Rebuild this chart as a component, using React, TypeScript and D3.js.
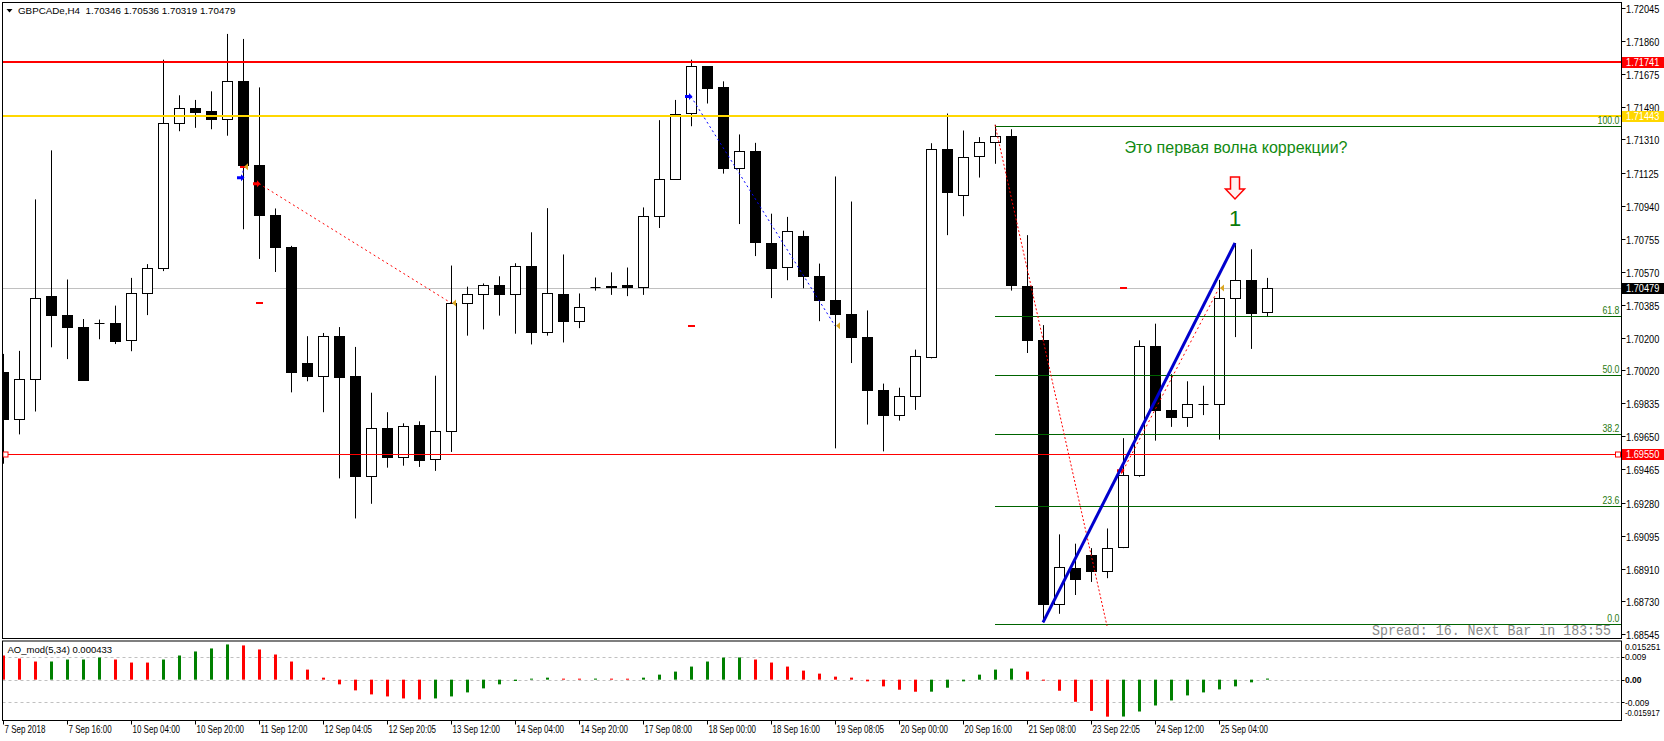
import * as d3 from "d3";

// GBPCADe H4 candles (bar 0 = 7 Sep 2018)
const opens = [
  1.70011, 1.69745, 1.69969, 1.70432, 1.70328, 1.70261, 1.70282, 1.70283, 1.70188, 1.70452,
  1.70591, 1.71404, 1.71484, 1.71469, 1.71426, 1.71639, 1.71169, 1.70888, 1.70709, 1.7006,
  1.69987, 1.7021, 1.69987, 1.69431, 1.69696, 1.69532, 1.69712, 1.69521, 1.69679, 1.70394,
  1.70447, 1.70496, 1.70447, 1.70602, 1.70232, 1.70447, 1.70294, 1.70485, 1.70492, 1.70494,
  1.70485, 1.70884, 1.7109, 1.7146, 1.71719, 1.71601, 1.71152, 1.71243, 1.70733, 1.70598,
  1.70771, 1.70547, 1.7041, 1.70334, 1.70206, 1.69909, 1.69767, 1.69876, 1.70093, 1.71258,
  1.71001, 1.71215, 1.71294, 1.71332, 1.70488, 1.70191, 1.6871, 1.68915, 1.68988, 1.68897,
  1.6903, 1.69435, 1.70158, 1.698, 1.69761, 1.69831, 1.69832, 1.70421, 1.70523, 1.70346,
];
const highs = [
  1.70111, 1.70128, 1.70975, 1.71249, 1.70527, 1.70306, 1.70303, 1.70381, 1.70536, 1.70613,
  1.71756, 1.71557, 1.71531, 1.71579, 1.719, 1.71872, 1.71601, 1.70924, 1.70715, 1.7021,
  1.70228, 1.70261, 1.7015, 1.69894, 1.69785, 1.69723, 1.69734, 1.69989, 1.70605, 1.70487,
  1.70505, 1.70545, 1.70618, 1.70791, 1.70926, 1.70667, 1.70449, 1.70538, 1.70567, 1.70594,
  1.7093, 1.71418, 1.71531, 1.71756, 1.71719, 1.71635, 1.71338, 1.71291, 1.70895, 1.70877,
  1.708, 1.70616, 1.71103, 1.70963, 1.70354, 1.69945, 1.69922, 1.70135, 1.71289, 1.71455,
  1.7136, 1.71323, 1.71392, 1.71367, 1.70775, 1.70272, 1.69102, 1.6905, 1.69025, 1.69135,
  1.6964, 1.70187, 1.7028, 1.69998, 1.69958, 1.69933, 1.70525, 1.70731, 1.70696, 1.70536,
];
const lows = [
  1.69497, 1.69661, 1.69789, 1.70148, 1.70082, 1.69964, 1.70193, 1.70166, 1.70126, 1.70328,
  1.70574, 1.71356, 1.71375, 1.71367, 1.71331, 1.70808, 1.70642, 1.70569, 1.69896, 1.69958,
  1.69785, 1.69415, 1.69191, 1.69273, 1.69475, 1.69486, 1.69479, 1.69457, 1.69563, 1.70213,
  1.70248, 1.70325, 1.70224, 1.70164, 1.70213, 1.70175, 1.70255, 1.70465, 1.70441, 1.70434,
  1.70441, 1.70815, 1.7109, 1.71384, 1.71511, 1.71119, 1.70837, 1.70658, 1.70423, 1.70523,
  1.70478, 1.70294, 1.69583, 1.7006, 1.69716, 1.69566, 1.69738, 1.69798, 1.70086, 1.70775,
  1.70881, 1.71097, 1.71174, 1.70465, 1.70116, 1.6861, 1.68658, 1.68763, 1.68836, 1.68857,
  1.69025, 1.69424, 1.69626, 1.69703, 1.69703, 1.69769, 1.69632, 1.70205, 1.70139, 1.70319,
];
const closes = [
  1.69745, 1.69971, 1.70425, 1.70328, 1.70261, 1.69964, 1.70281, 1.70182, 1.70452, 1.70591,
  1.714, 1.71488, 1.71462, 1.71426, 1.71639, 1.71165, 1.70888, 1.70709, 1.70009, 1.69987,
  1.7021, 1.6998, 1.69431, 1.69696, 1.69532, 1.69707, 1.69519, 1.69679, 1.70396, 1.70447,
  1.70496, 1.70445, 1.70602, 1.70232, 1.70452, 1.70294, 1.70374, 1.70485, 1.70483, 1.70485,
  1.70884, 1.7109, 1.71455, 1.71719, 1.71599, 1.71152, 1.71243, 1.70738, 1.70591, 1.708,
  1.70547, 1.70412, 1.70332, 1.70204, 1.69907, 1.69767, 1.69876, 1.701, 1.71258, 1.71017,
  1.71214, 1.71298, 1.71332, 1.70494, 1.70191, 1.68712, 1.68919, 1.68851, 1.68896, 1.69025,
  1.69435, 1.70158, 1.698, 1.69761, 1.69832, 1.69829, 1.70421, 1.70523, 1.70342, 1.70479,
];

// AO_mod(5,34)
const aoValues = [
  0.00953, 0.00834, 0.00715, 0.00716, 0.00794, 0.00795, 0.00873, 0.00794, 0.00675, 0.00674,
  0.00794, 0.00953, 0.01112, 0.01231, 0.01389, 0.0135, 0.01191, 0.00992, 0.00715, 0.00397,
  0.00079, -0.00185, -0.00423, -0.00582, -0.00662, -0.00741, -0.00781, -0.00741, -0.00662, -0.00503,
  -0.00344, -0.00185, -0.00053, 0.0004, 0.00079, 0.0004, 0.00039, 0.00042, 0.0004, 0.00038,
  0.00079, 0.00198, 0.00318, 0.00516, 0.00715, 0.0087, 0.00876, 0.00794, 0.00675, 0.00516,
  0.00357, 0.00238, 0.00119, 0.0008, -0.00066, -0.00265, -0.00397, -0.00476, -0.00474, -0.00318,
  -0.00066, 0.00198, 0.00397, 0.00437, 0.00318, -0.0003, -0.00437, -0.00873, -0.01231, -0.0146,
  -0.01455, -0.01257, -0.01019, -0.0082, -0.00622, -0.00503, -0.00384, -0.00265, -0.00106, 0.00043,
];

const priceTicks = [
  1.72045, 1.7186, 1.71675, 1.7149, 1.7131, 1.71125, 1.7094, 1.70755, 1.7057, 1.70385,
  1.702, 1.7002, 1.69835, 1.6965, 1.69465, 1.6928, 1.69095, 1.6891, 1.6873, 1.68545,
];
const timeLabels = [
  "7 Sep 2018", "7 Sep 16:00", "10 Sep 04:00", "10 Sep 20:00", "11 Sep 12:00",
  "12 Sep 04:05", "12 Sep 20:05", "13 Sep 12:00", "14 Sep 04:00", "14 Sep 20:00",
  "17 Sep 08:00", "18 Sep 00:00", "18 Sep 16:00", "19 Sep 08:05", "20 Sep 00:00",
  "20 Sep 16:00", "21 Sep 08:00", "23 Sep 22:05", "24 Sep 12:00", "25 Sep 04:00",
];
const aoTicks = [0.015251, 0.009, 0, -0.009, -0.015917];
const aoTickText = ["0.015251", "0.009", "0.00", "-0.009", "-0.015917"];

// horizontal levels: red resistance, gold level, bid, red support
const resistance = 1.71741;
const goldLevel = 1.71443;
const bid = 1.70479;
const support = 1.6955;

// fibonacci from bar 62 high to bar 65 low
const fibStartBar = 62;
const fibHigh = 1.71385;
const fibLow = 1.68601;
const fibLevels = [0, 23.6, 38.2, 50, 61.8, 100];

// closed orders (open arrow, dotted line, gold close mark)
const tradeOpenBars = [15, 16, 43, 70];
const tradeCloseBars = [15, 28, 52, 76];
const tradeOpenPrices = [1.71096, 1.71063, 1.7155, 1.69458];
const tradeClosePrices = [1.71158, 1.70396, 1.70268, 1.70479];
const tradeSides = ["buy", "sell", "buy", "sell"];

const trendBars = [62, 69];
const trendPrices = [1.71392, 1.6859];
const waveBars = [65, 77];
const wavePrices = [1.6861, 1.70731];

const commentBar = 70.1;
const commentPrice = 1.71234;

const SANS = "'Liberation Sans', Arial, sans-serif";

function T({ x, y, fs = 10, sx = 1, anchor = "start", fill = "#000", weight = "normal", family = SANS, children }: any) {
  return (
    <text
      transform={`translate(${x},${y}) scale(${sx},1)`}
      fontSize={fs}
      fontFamily={family}
      fontWeight={weight}
      textAnchor={anchor}
      fill={fill}
    >
      {children}
    </text>
  );
}

export default function App() {
  const left = 2.5;
  const axisX = 1621.5;
  const mainTop = 2.5;
  const mainBottom = 638.5;
  const indTop = 641;
  const indBottom = 720.5;

  const x = d3.scaleLinear().domain([0, 79]).range([3, 1267]);
  const y = d3.scaleLinear().domain([1.68545, 1.72045]).range([634, 8]);
  const ay = d3.scaleLinear().domain([-0.015917, 0.015251]).range([720, 641]);
  const fmt = d3.format(".5f");
  const line = d3.line<[number, number]>();

  const fibPrice = (l: number) => fibLow + ((fibHigh - fibLow) * l) / 100;

  const boxLabel = (price: number, bg: string, fg: string) => {
    const py = Math.round(y(price));
    return (
      <g>
        <rect x={1622} y={py - 5} width={42} height={11} fill={bg} />
        <T x={1626} y={py + 4} fs={10.5} sx={0.88} fill={fg}>{fmt(price)}</T>
      </g>
    );
  };

  const hline = (price: number, color: string, w: number, x1 = left) => {
    const py = Math.round(y(price)) + (w === 1 ? 0.5 : 0);
    return <line x1={x1} x2={axisX} y1={py} y2={py} stroke={color} strokeWidth={w} />;
  };

  const openArrow = (bx: number, py: number, color: string, key: string) => (
    <polygon
      key={key}
      points={`${bx - 6},${py - 1.5} ${bx - 2},${py - 1.5} ${bx - 2},${py - 3.5} ${bx + 1.5},${py} ${bx - 2},${py + 3.5} ${bx - 2},${py + 1.5} ${bx - 6},${py + 1.5}`}
      fill={color}
    />
  );

  const a77x = x(waveBars[1]);
  const a77y = y(wavePrices[1]);

  return (
    <>
      <style>{`body{margin:0;background:#fff}`}</style>
      <svg width={1664} height={741} style={{ display: "block", background: "#fff" }}>
        <defs>
          <clipPath id="mainClip">
            <rect x={left} y={mainTop} width={axisX - left} height={mainBottom - mainTop} />
          </clipPath>
          <clipPath id="indClip">
            <rect x={left} y={indTop} width={axisX - left} height={indBottom - indTop} />
          </clipPath>
        </defs>

        {/* header */}
        <polygon points="6.5,9 12.5,9 9.5,12.5" fill="#000" />
        <T x={18} y={13.5} fs={9.8}>GBPCADe,H4&nbsp;&nbsp;1.70346 1.70536 1.70319 1.70479</T>

        <g clipPath="url(#mainClip)">
          {hline(bid, "#c0c0c0", 1)}

          {/* candles */}
          {opens.map((o, i) => {
            const c = closes[i];
            const cx = Math.round(x(i)) + 0.5;
            const yo = y(o);
            const yc = y(c);
            const top = Math.min(yo, yc);
            const bot = Math.max(yo, yc);
            const bull = c >= o;
            return (
              <g key={i}>
                <line x1={cx} x2={cx} y1={y(highs[i])} y2={y(lows[i])} stroke="#000" />
                {bot - top < 1.5 ? (
                  <line x1={cx - 5} x2={cx + 5} y1={Math.round(top) + 0.5} y2={Math.round(top) + 0.5} stroke="#000" />
                ) : (
                  <rect
                    x={cx - 5}
                    y={Math.round(top) + 0.5}
                    width={10}
                    height={Math.round(bot) - Math.round(top)}
                    fill={bull ? "#fff" : "#000"}
                    stroke="#000"
                  />
                )}
              </g>
            );
          })}

          {/* levels */}
          {hline(resistance, "#ff0000", 2)}
          {hline(goldLevel, "#ffd700", 2)}
          {hline(support, "#ff0000", 1)}
          <rect x={3} y={Math.round(y(support)) - 2} width={5} height={5} fill="#fff" stroke="#ff0000" />

          {fibLevels.map((l) => {
            const py = Math.round(y(fibPrice(l))) + 0.5;
            return (
              <g key={l}>
                <line x1={x(fibStartBar)} x2={axisX} y1={py} y2={py} stroke="#006400" />
                <T x={1619.5} y={py - 2.5} fs={10} sx={0.88} anchor="end" fill="#2a7a10">
                  {l.toFixed(1)}
                </T>
              </g>
            );
          })}

          {/* order history */}
          {tradeOpenBars.map((ob, k) => {
            const ox = x(ob);
            const cxp = x(tradeCloseBars[k]);
            const oy = y(tradeOpenPrices[k]);
            const cy = y(tradeClosePrices[k]);
            const col = tradeSides[k] === "buy" ? "#0000ff" : "#ff0000";
            return (
              <g key={k}>
                <path
                  d={line([[ox, oy], [cxp, cy]]) || ""}
                  stroke={col}
                  strokeWidth={1}
                  strokeDasharray="2,3"
                  fill="none"
                />
                <line x1={ox - 3} x2={ox + 4} y1={Math.round(cy)} y2={Math.round(cy)} stroke="#ff0000" strokeWidth={2} />
                {openArrow(ox, oy, col, "o" + k)}
                <polygon points={`${cxp + 1},${cy} ${cxp + 5},${cy - 3.5} ${cxp + 5},${cy + 3.5}`} fill="#daa520" />
              </g>
            );
          })}

          <path
            d={line(trendBars.map((b, k) => [x(b), y(trendPrices[k])] as [number, number])) || ""}
            stroke="#ff0000"
            strokeDasharray="2,2"
            fill="none"
          />

          <path
            d={line(waveBars.map((b, k) => [x(b), y(wavePrices[k])] as [number, number])) || ""}
            stroke="#0000cd"
            strokeWidth={3}
            fill="none"
          />

          {/* annotations */}
          <path
            d={`M${a77x - 4.5},${a77y - 66} L${a77x + 4.5},${a77y - 66} L${a77x + 4.5},${a77y - 54} L${a77x + 9.5},${a77y - 54} L${a77x},${a77y - 44} L${a77x - 9.5},${a77y - 54} L${a77x - 4.5},${a77y - 54} Z`}
            fill="#fff0f0"
            stroke="#ff0000"
            strokeWidth={1.5}
          />
          <T x={a77x} y={a77y - 17} fs={22} anchor="middle" fill="#0a7a0a">1</T>
          <T x={x(commentBar)} y={y(commentPrice)} fs={16} fill="#118a11">Это первая волна коррекции?</T>

          <text
            x={1611}
            y={635}
            textAnchor="end"
            fontFamily="'Liberation Mono', 'Courier New', monospace"
            fontSize={14}
            fill="#8a8a8a"
            textLength={239}
            lengthAdjust="spacingAndGlyphs"
          >
            Spread: 16. Next Bar in 183:55
          </text>
        </g>

        <rect x={1615.5} y={Math.round(y(support)) - 2} width={5} height={5} fill="#fff" stroke="#ff0000" />

        {/* main frame */}
        <rect x={left} y={mainTop} width={axisX - left} height={mainBottom - mainTop} fill="none" stroke="#000" />

        {/* price axis */}
        {priceTicks.map((p) => {
          const py = Math.round(y(p)) + 0.5;
          return (
            <g key={p}>
              <line x1={axisX} x2={axisX + 4} y1={py} y2={py} stroke="#000" />
              <T x={1626} y={py + 4} fs={10.5} sx={0.88}>{fmt(p)}</T>
            </g>
          );
        })}
        {boxLabel(resistance, "#ff0000", "#fff")}
        {boxLabel(goldLevel, "#ffd700", "#fff")}
        {boxLabel(bid, "#000", "#fff")}
        {boxLabel(support, "#ff0000", "#fff")}

        {/* AO panel */}
        <g clipPath="url(#indClip)">
          {[0.009, 0, -0.009].map((v) => (
            <line
              key={v}
              x1={left}
              x2={axisX}
              y1={Math.round(ay(v)) + 0.5}
              y2={Math.round(ay(v)) + 0.5}
              stroke="#c0c0c0"
              strokeDasharray="3,3"
            />
          ))}
          {aoValues.map((v, i) => {
            const up = i > 0 && v > aoValues[i - 1];
            const y0 = ay(0);
            const yv = ay(v);
            return (
              <rect
                key={i}
                x={Math.round(x(i)) - 1}
                y={Math.min(y0, yv)}
                width={3}
                height={Math.max(1, Math.abs(yv - y0))}
                fill={up ? "#008000" : "#ff0000"}
              />
            );
          })}
        </g>
        <T x={7.5} y={653} fs={9.5}>AO_mod(5,34) 0.000433</T>
        <rect x={left} y={indTop} width={axisX - left} height={indBottom - indTop} fill="none" stroke="#000" />
        {aoTicks.map((v, k) => {
          const py = ay(v);
          const last = k === aoTicks.length - 1;
          const by = k === 0 ? indTop + 9 : last ? indBottom - 4.5 : py + 3.2;
          return (
            <g key={k}>
              {k > 0 && !last && (
                <line x1={axisX} x2={axisX + 3} y1={Math.round(py) + 0.5} y2={Math.round(py) + 0.5} stroke="#000" />
              )}
              <T x={1625} y={by} fs={9} sx={last ? 0.86 : 0.95} weight={v === 0 ? "bold" : "normal"}>
                {aoTickText[k]}
              </T>
            </g>
          );
        })}

        {/* time axis */}
        {timeLabels.map((t, k) => {
          const tx = Math.round(x(k * 4)) + 0.5;
          return (
            <g key={t}>
              <line x1={tx} x2={tx} y1={indBottom} y2={indBottom + 4} stroke="#000" />
              <T x={tx + 1} y={733} fs={10} sx={0.8}>{t}</T>
            </g>
          );
        })}
      </svg>
    </>
  );
}
